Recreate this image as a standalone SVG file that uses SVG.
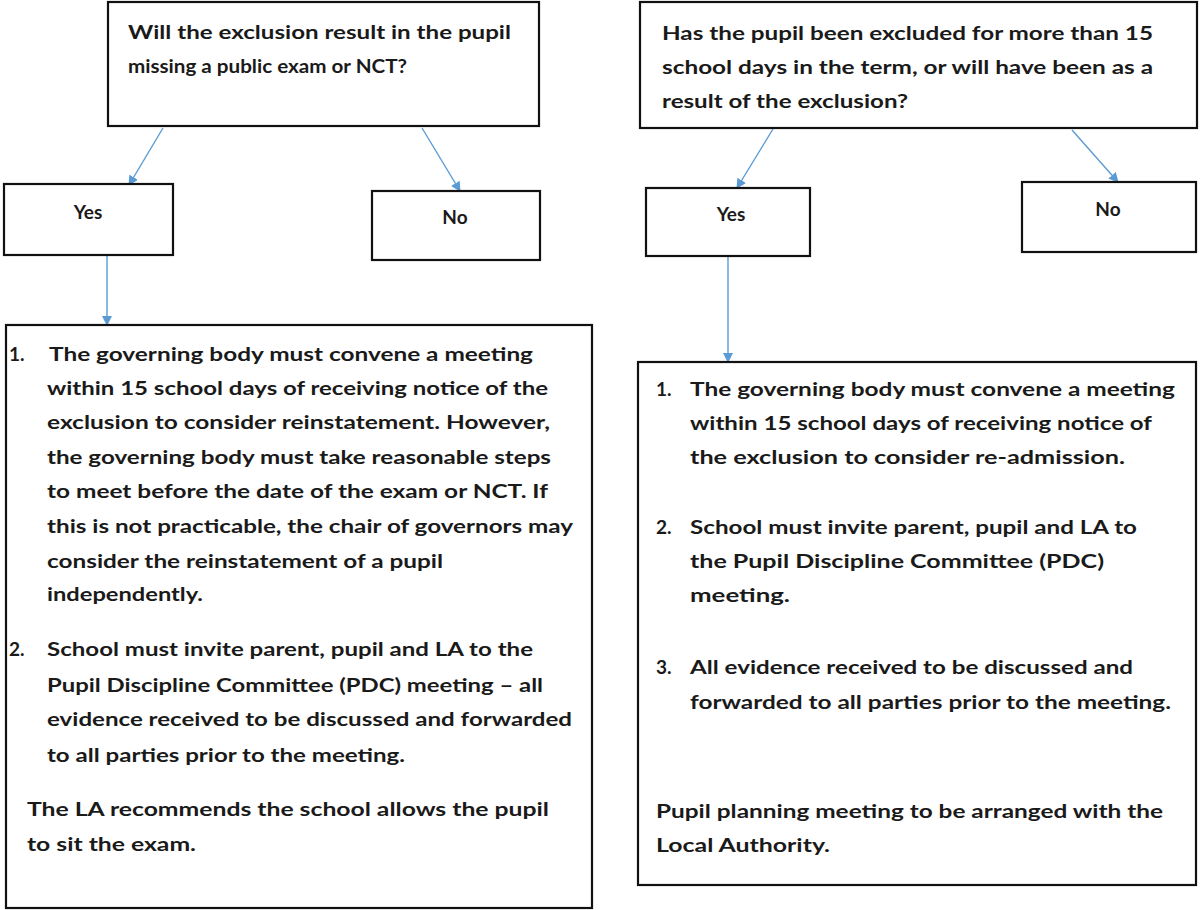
<svg xmlns="http://www.w3.org/2000/svg" width="1200" height="910" viewBox="0 0 1200 910">
<style>
.box{fill:#fff;stroke:#111;stroke-width:2.2}
.t{font-family:Lato,"Open Sans","Liberation Sans",sans-serif;font-weight:700;font-size:19px;fill:#1a1a1a}
.c{text-anchor:middle}
.con{stroke:#5b9bd5;stroke-width:1.4;fill:none;marker-end:url(#ah)}
</style>
<defs>
<marker id="ah" viewBox="0 0 10 10" refX="9" refY="5" markerWidth="10" markerHeight="10" markerUnits="userSpaceOnUse" orient="auto">
<path d="M0,0 L10,5 L0,10 z" fill="#5b9bd5"/>
</marker>
</defs>
<rect width="1200" height="910" fill="#fff"/>
<g id="connectors">
<line class="con" x1="163" y1="128" x2="129" y2="185"/>
<line class="con" x1="422" y1="128" x2="460" y2="191"/>
<line class="con" x1="773" y1="129" x2="737" y2="188"/>
<line class="con" x1="1072" y1="130" x2="1118" y2="182"/>
<line class="con" x1="107" y1="256" x2="107" y2="325"/>
<line class="con" x1="728" y1="257" x2="728" y2="362"/>
</g>
<g id="q1">
<rect class="box" x="108" y="2" width="431" height="124"/>
<text class="t" x="128" y="39" textLength="383" lengthAdjust="spacingAndGlyphs">Will the exclusion result in the pupil</text>
<text class="t" x="128" y="73" textLength="279" lengthAdjust="spacingAndGlyphs">missing a public exam or NCT?</text>
</g>
<g id="q2">
<rect class="box" x="640" y="2" width="557" height="126"/>
<text class="t" x="662" y="40" textLength="491" lengthAdjust="spacingAndGlyphs">Has the pupil been excluded for more than 15</text>
<text class="t" x="662" y="74" textLength="491" lengthAdjust="spacingAndGlyphs">school days in the term, or will have been as a</text>
<text class="t" x="662" y="108" textLength="246" lengthAdjust="spacingAndGlyphs">result of the exclusion?</text>
</g>
<g id="yes1">
<rect class="box" x="4" y="184" width="169" height="71"/>
<text class="t c" x="88" y="219">Yes</text>
</g>
<g id="no1">
<rect class="box" x="372" y="191" width="168" height="69"/>
<text class="t c" x="455" y="224">No</text>
</g>
<g id="yes2">
<rect class="box" x="646" y="188" width="164" height="68"/>
<text class="t c" x="731" y="221">Yes</text>
</g>
<g id="no2">
<rect class="box" x="1022" y="182" width="174" height="70"/>
<text class="t c" x="1108" y="216">No</text>
</g>
<g id="a1">
<rect class="box" x="6" y="325" width="586" height="583"/>
<text class="t" x="9" y="361">1.</text>
<text class="t" x="49" y="361" textLength="484" lengthAdjust="spacingAndGlyphs">The governing body must convene a meeting</text>
<text class="t" x="47" y="395" textLength="501" lengthAdjust="spacingAndGlyphs">within 15 school days of receiving notice of the</text>
<text class="t" x="47" y="429" textLength="503" lengthAdjust="spacingAndGlyphs">exclusion to consider reinstatement.  However,</text>
<text class="t" x="47" y="464" textLength="504" lengthAdjust="spacingAndGlyphs">the governing body must take reasonable steps</text>
<text class="t" x="47" y="498" textLength="501" lengthAdjust="spacingAndGlyphs">to meet before the date of the exam or NCT.  If</text>
<text class="t" x="47" y="533" textLength="526" lengthAdjust="spacingAndGlyphs">this is not practicable, the chair of governors may</text>
<text class="t" x="47" y="568" textLength="396" lengthAdjust="spacingAndGlyphs">consider the reinstatement of a pupil</text>
<text class="t" x="47" y="601" textLength="156" lengthAdjust="spacingAndGlyphs">independently.</text>
<text class="t" x="9" y="656">2.</text>
<text class="t" x="47" y="656" textLength="486" lengthAdjust="spacingAndGlyphs">School must invite parent, pupil and LA to the</text>
<text class="t" x="47" y="692" textLength="496" lengthAdjust="spacingAndGlyphs">Pupil Discipline Committee (PDC) meeting – all</text>
<text class="t" x="47" y="726" textLength="525" lengthAdjust="spacingAndGlyphs">evidence received to be discussed and forwarded</text>
<text class="t" x="47" y="762" textLength="358" lengthAdjust="spacingAndGlyphs">to all parties prior to the meeting.</text>
<text class="t" x="27" y="816" textLength="522" lengthAdjust="spacingAndGlyphs">The LA recommends the school allows the pupil</text>
<text class="t" x="27" y="851" textLength="169" lengthAdjust="spacingAndGlyphs">to sit the exam.</text>
</g>
<g id="a2">
<rect class="box" x="638" y="362" width="558" height="523"/>
<text class="t" x="656" y="396">1.</text>
<text class="t" x="690" y="396" textLength="485" lengthAdjust="spacingAndGlyphs">The governing body must convene a meeting</text>
<text class="t" x="690" y="430" textLength="462" lengthAdjust="spacingAndGlyphs">within 15 school days of receiving notice of</text>
<text class="t" x="690" y="464" textLength="435" lengthAdjust="spacingAndGlyphs">the exclusion to consider re-admission.</text>
<text class="t" x="656" y="534">2.</text>
<text class="t" x="690" y="534" textLength="447" lengthAdjust="spacingAndGlyphs">School must invite parent, pupil and LA to</text>
<text class="t" x="690" y="568" textLength="414" lengthAdjust="spacingAndGlyphs">the Pupil Discipline Committee (PDC)</text>
<text class="t" x="690" y="602" textLength="100" lengthAdjust="spacingAndGlyphs">meeting.</text>
<text class="t" x="656" y="674">3.</text>
<text class="t" x="690" y="674" textLength="443" lengthAdjust="spacingAndGlyphs">All evidence received to be discussed and</text>
<text class="t" x="690" y="709" textLength="481" lengthAdjust="spacingAndGlyphs">forwarded to all parties prior to the meeting.</text>
<text class="t" x="656" y="818" textLength="507" lengthAdjust="spacingAndGlyphs">Pupil planning meeting to be arranged with the</text>
<text class="t" x="656" y="852" textLength="174" lengthAdjust="spacingAndGlyphs">Local Authority.</text>
</g>
</svg>
